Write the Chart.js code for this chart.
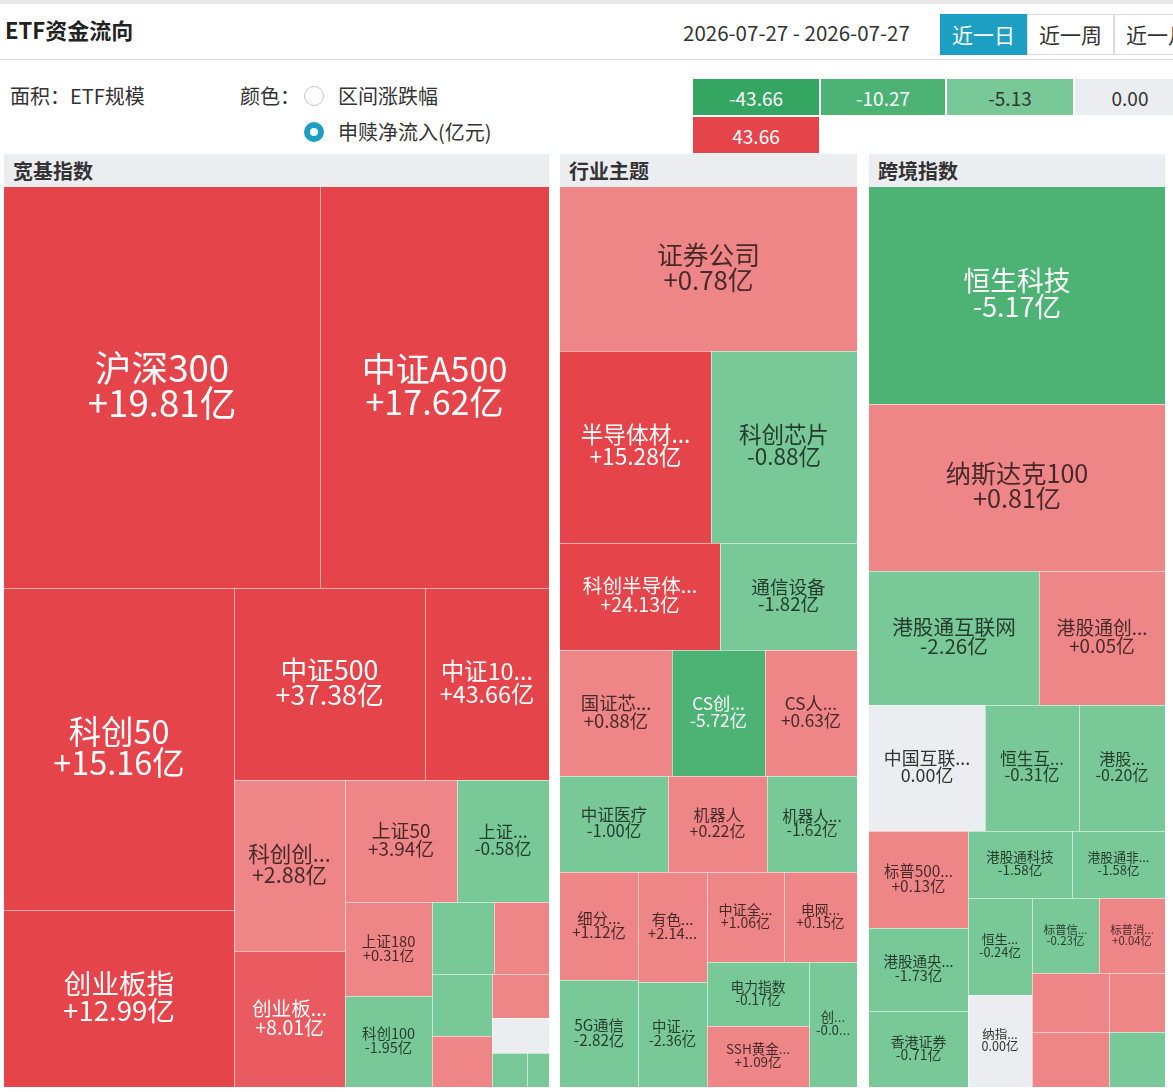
<!DOCTYPE html>
<html lang="zh-CN">
<head>
<meta charset="utf-8">
<title>ETF资金流向</title>
<script src="https://cdn.jsdelivr.net/npm/chart.js@4.4.1/dist/chart.umd.min.js"></script>
<style>
html,body{margin:0;padding:0;background:#fff;}
body{width:1173px;height:1092px;overflow:hidden;position:relative;font-family:"Noto Sans CJK SC","Noto Sans",sans-serif;color:#333;}
.a{position:absolute;white-space:nowrap;line-height:1;}
.topbar{left:0;top:0;width:1173px;height:4px;background:#e8e8e8;}
.title{left:5px;top:18px;font-size:22px;font-weight:bold;color:#222;}
.date{left:683px;top:22px;font-size:20.5px;color:#333;}
.btn{top:14px;height:41px;width:87px;box-sizing:border-box;border:1px solid #dcdcdc;font-size:21px;display:flex;align-items:center;justify-content:center;color:#333;background:#fff;}
.btn.on{background:#1d9fc3;color:#fff;border-color:#1d9fc3;}
.rule{left:0;top:59px;width:1173px;height:1px;background:#dddddd;}
.lbl{font-size:20px;color:#333;}
.radio{width:20px;height:20px;border-radius:50%;box-sizing:border-box;}
.leg{height:36px;display:flex;align-items:center;justify-content:center;font-size:19px;}
.ph{height:33px;background:#ebedf0;font-size:20px;font-weight:bold;color:#333;box-sizing:border-box;padding-left:9px;display:flex;align-items:center;}
canvas{position:absolute;display:block;}
</style>
</head>
<body>
<div class="a topbar"></div>
<div class="a title">ETF资金流向</div>
<div class="a date">2026-07-27 - 2026-07-27</div>
<div class="a btn on" style="left:940px;">近一日</div>
<div class="a btn" style="left:1027px;">近一周</div>
<div class="a btn" style="left:1114px;">近一月</div>
<div class="a rule"></div>
<div class="a lbl" style="left:10px;top:86px;">面积：ETF规模</div>
<div class="a lbl" style="left:240px;top:86px;">颜色：</div>
<div class="a radio" style="left:304px;top:86px;border:1px solid #c8c8c8;background:#fff;"></div>
<div class="a lbl" style="left:338px;top:86px;">区间涨跌幅</div>
<div class="a radio" style="left:304px;top:122px;border:6px solid #1d9fc3;background:#fff;"></div>
<div class="a lbl" style="left:338px;top:122px;">申赎净流入(亿元)</div>
<div id="legend"></div>
<div class="a ph" style="left:4px;top:154px;width:545px;">宽基指数</div>
<div class="a ph" style="left:560px;top:154px;width:297px;">行业主题</div>
<div class="a ph" style="left:869px;top:154px;width:296px;">跨境指数</div>
<script>
// ---------------- DATA ----------------
// 宽基指数
const broadNames = ['沪深300','中证A500','科创50','创业板指','中证500','中证1000','科创创业50','创业板成长','上证50','上证指数','上证180','科创100','深证100','中证800','深证成指','中证A100','双创50','中证A50','创业板200','科创200'];
const broadScale = [126716, 91829, 74060, 40710, 36672, 23808, 18981, 15096, 13664, 11224, 8178, 7917, 4464, 3960, 3720, 3060, 2508, 1995, 1188, 748];
const broadFlow  = [19.81, 17.62, 15.16, 12.99, 37.38, 43.66, 2.88, 8.01, 3.94, -0.58, 0.31, -1.95, -0.42, 0.36, -0.27, 0.18, 0.21, 0.00, -0.15, -0.06];

// 行业主题
const sectorNames = ['证券公司','半导体材料设备','科创芯片','科创半导体材料','通信设备','国证芯片指数','CS创新药','CS人工智能','中证医疗','机器人','机器人产业','细分化工','5G通信','有色金属','中证军工','中证全指半导体','电网设备','电力指数','SSH黄金股票','创新药'];
const sectorScale = [48708, 28992, 28032, 17120, 14659, 14112, 11718, 11592, 10368, 9504, 8640, 8420, 8380, 7590, 7245, 7020, 6560, 6500, 6283, 6000];
const sectorFlow  = [0.78, 15.28, -0.88, 24.13, -1.82, 0.88, -5.72, 0.63, -1.00, 0.22, -1.62, 1.12, -2.82, 2.14, -2.36, 1.06, 0.15, -0.17, 1.09, -0.08];

// 跨境指数
const crossNames = ['恒生科技','纳斯达克100','港股通互联网','港股通创新药','中国互联网50','恒生互联网','港股通医药','标普500指数','港股通央企红利','香港证券','港股通科技','港股通非银金融','恒生医疗','纳指科技','标普信息科技','标普消费精选','日经225','德国DAX','法国CAC40','沙特阿拉伯'];
const crossScale = [64232, 49432, 22780, 16884, 14616, 11844, 10836, 9603, 8217, 7524, 7000, 6250, 6200, 5900, 5025, 4950, 4543, 4235, 3304, 3080];
const crossFlow  = [-5.17, 0.81, -2.26, 0.05, 0.00, -0.31, -0.20, 0.13, -1.73, -0.71, -1.58, -1.58, -0.24, 0.00, -0.23, 0.04, 0.32, 0.12, 0.05, -0.11];

// 颜色图例（申赎净流入，亿元）
const legendValues = [-43.66, -10.27, -5.13, 0.00, 43.66];
const panelTitles = ['宽基指数','行业主题','跨境指数'];

// ---------------- STYLE ----------------
const C = {
  g3:'#35a562', g2:'#4db375', g1:'#79c897', zero:'#ecedf0',
  r1:'#ee8587', r2:'#e95b60', r3:'#e5444a'
};
function colorFor(v){
  const t1 = Math.abs(legendValues[2]), t2 = Math.abs(legendValues[1]);
  if (v === 0) return C.zero;
  if (v < 0) { const a=-v; return a > t2 ? C.g3 : (a > t1 ? C.g2 : C.g1); }
  return v >= t2 ? C.r3 : (v > t1 ? C.r2 : C.r1);
}
function textColorFor(bg){
  if (bg===C.zero) return '#333333';
  if (bg===C.r1 || bg===C.g1) return 'rgba(0,0,0,0.70)';
  return '#ffffff';
}
function fmtFlow(v){
  if (v > 0) return '+' + v.toFixed(2) + '亿';
  return v.toFixed(2) + '亿';
}

// legend
(function(){
  const lg = document.getElementById('legend');
  const pos = [[693,79,126],[821,79,124],[947,79,126],[1075,79,110],[693,117,126]];
  legendValues.forEach((v,i)=>{
    const d = document.createElement('div');
    d.className='a leg';
    const bg = colorFor(v);
    d.style.left=pos[i][0]+'px'; d.style.top=pos[i][1]+'px'; d.style.width=pos[i][2]+'px';
    d.style.background=bg;
    d.style.color = (bg===C.zero||bg===C.g1) ? '#333' : '#fff';
    d.textContent = v.toFixed(2);
    lg.appendChild(d);
  });
})();

// ---------------- TREEMAP LAYOUT (squarify) ----------------
function worst(row, fixed, ratio){
  let mx=0, mn=Infinity;
  row.forEach(n=>{ if(n.area){ if(n.area<mn) mn=n.area; if(n.area>mx) mx=n.area; } });
  const sq = row.area*row.area, f = fixed*fixed*ratio;
  return sq ? Math.max(f*mx/sq, sq/(f*mn)) : Infinity;
}
function position(row, fixed, rect, flush){
  const i0 = fixed === rect.width ? 0 : 1, i1 = 1-i0;
  const xy=['x','y'], wh=['width','height'];
  let last = rect[xy[i0]];
  let other = fixed ? row.area/fixed : 0;
  if (flush || other > rect[wh[i1]]) other = rect[wh[i1]];
  row.forEach((n,i)=>{
    const step = other ? n.area/other : 0;
    const remain = rect[xy[i0]] + rect[wh[i0]] - last;
    const m = (i===row.length-1 || remain<step) ? remain : step;
    n[wh[i1]] = other; n[wh[i0]] = m;
    n[xy[i1]] = rect[xy[i1]]; n[xy[i0]] = last;
    last += m;
  });
  rect[xy[i1]] += other; rect[wh[i1]] -= other;
}
function squarify(items, W, H, ratio){
  const total = items.reduce((s,d)=>s+d.value,0);
  const nodes = items.map(d=>Object.assign({}, d, {area: d.value/total*W*H}));
  const rect = {x:0,y:0,width:W,height:H};
  let fixed = Math.min(W,H), row=[], best=Infinity;
  row.area = 0;
  for (let i=0;i<nodes.length;){
    const c = nodes[i];
    row.push(c); row.area += c.area;
    const s = worst(row, fixed, ratio);
    if (s <= best){ i++; best = s; }
    else {
      row.area -= row.pop().area;
      position(row, fixed, rect, false);
      fixed = Math.min(rect.width, rect.height);
      row = []; row.area = 0; best = Infinity;
    }
  }
  if (row.length) position(row, fixed, rect, true);
  return nodes;
}
function fitText(ctx, text, avail){
  if (ctx.measureText(text).width <= avail) return text;
  const ch = Array.from(text);
  for (let k=ch.length-1;k>=1;k--){
    const t = ch.slice(0,k).join('')+'...';
    if (ctx.measureText(t).width <= avail) return t;
  }
  for (let k=ch.length-1;k>=1;k--){
    const t = ch.slice(0,k).join('');
    if (ctx.measureText(t).width <= avail) return t;
  }
  return ch[0];
}

const treemapPlugin = {
  id:'treemapCells',
  afterDatasetsDraw(chart, args, opts){
    const tm = chart.data.datasets[0].treemap;
    const xs = chart.scales.x, ys = chart.scales.y;
    const items = tm.names.map((n,i)=>({name:n, value:tm.sizes[i], flow:tm.flows[i]}))
                    .sort((a,b)=>b.value-a.value);
    const nodes = squarify(items, xs.max - xs.min, ys.max - ys.min, opts.ratio);
    const ctx = chart.ctx, ca = chart.chartArea;
    ctx.save();
    nodes.forEach(n=>{
      const x0 = Math.round(xs.getPixelForValue(n.x)), x1 = Math.round(xs.getPixelForValue(n.x+n.width));
      const y0 = Math.round(ys.getPixelForValue(n.y)), y1 = Math.round(ys.getPixelForValue(n.y+n.height));
      const w = x1-x0, h = y1-y0;
      const bg = colorFor(n.flow);
      ctx.fillStyle = bg;
      ctx.fillRect(x0, y0, w, h);
      ctx.fillStyle = opts.gapColor;
      if (x0 > ca.left + 0.5) ctx.fillRect(x0, y0, 1, h);
      if (y0 > ca.top + 0.5) ctx.fillRect(x0, y0, w, 1);
      n.px = {x0,y0,w,h,bg};
    });
    nodes.forEach(n=>{
      const {x0,y0,w,h,bg} = n.px;
      const area = w*h;
      if (area < opts.minLabelArea) return;
      let fs = opts.base + opts.slope*Math.log(area/7000);
      fs = Math.max(11, fs);
      ctx.save();
      ctx.beginPath(); ctx.rect(x0,y0,w,h); ctx.clip();
      ctx.font = fs.toFixed(1)+'px "Noto Sans CJK SC", "Noto Sans", sans-serif';
      ctx.textAlign='center'; ctx.textBaseline='middle';
      ctx.fillStyle = textColorFor(bg);
      const pad = Math.min(opts.maxPad, Math.max(0, 0.16*w - 1.5));
      const avail = w - 2*pad;
      const l1 = fitText(ctx, n.name, avail), l2 = fitText(ctx, fmtFlow(n.flow), avail);
      const cx = x0 + w/2, cy = y0 + h/2 - fs*0.06, lh = fs*0.96;
      ctx.fillText(l1, cx, cy - lh/2);
      ctx.fillText(l2, cx, cy + lh/2);
      ctx.restore();
    });
    ctx.restore();
  }
};

// ---------------- CHARTS ----------------
const panels = [
  {title:panelTitles[0], names:broadNames,  sizes:broadScale,  flows:broadFlow,  left:4,   top:187, w:545, h:900, base:13.5, slope:8},
  {title:panelTitles[1], names:sectorNames, sizes:sectorScale, flows:sectorFlow, left:560, top:187, w:297, h:900, base:14.2, slope:6},
  {title:panelTitles[2], names:crossNames,  sizes:crossScale,  flows:crossFlow,  left:869, top:187, w:296, h:900, base:13.5, slope:6}
];
panels.forEach(p=>{
  const cv = document.createElement('canvas');
  cv.width = p.w; cv.height = p.h;
  cv.style.left = p.left+'px'; cv.style.top = p.top+'px';
  cv.style.width = p.w+'px'; cv.style.height = p.h+'px';
  document.body.appendChild(cv);
  new Chart(cv, {
    type:'scatter',
    data:{datasets:[{label:p.title, data:[], treemap:{names:p.names, sizes:p.sizes, flows:p.flows}}]},
    options:{
      responsive:false, animation:false, devicePixelRatio:1,
      layout:{padding:0}, events:[],
      scales:{
        x:{type:'linear', min:0, max:p.w, display:false},
        y:{type:'linear', min:0, max:p.h, reverse:true, display:false}
      },
      plugins:{
        legend:{display:false}, tooltip:{enabled:false},
        treemapCells:{ratio:0.92, base:p.base, slope:p.slope, maxPad:14.2, minLabelArea:4700, gapColor:'rgba(255,255,255,0.55)'}
      }
    },
    plugins:[treemapPlugin]
  });
});
</script>
</body>
</html>
